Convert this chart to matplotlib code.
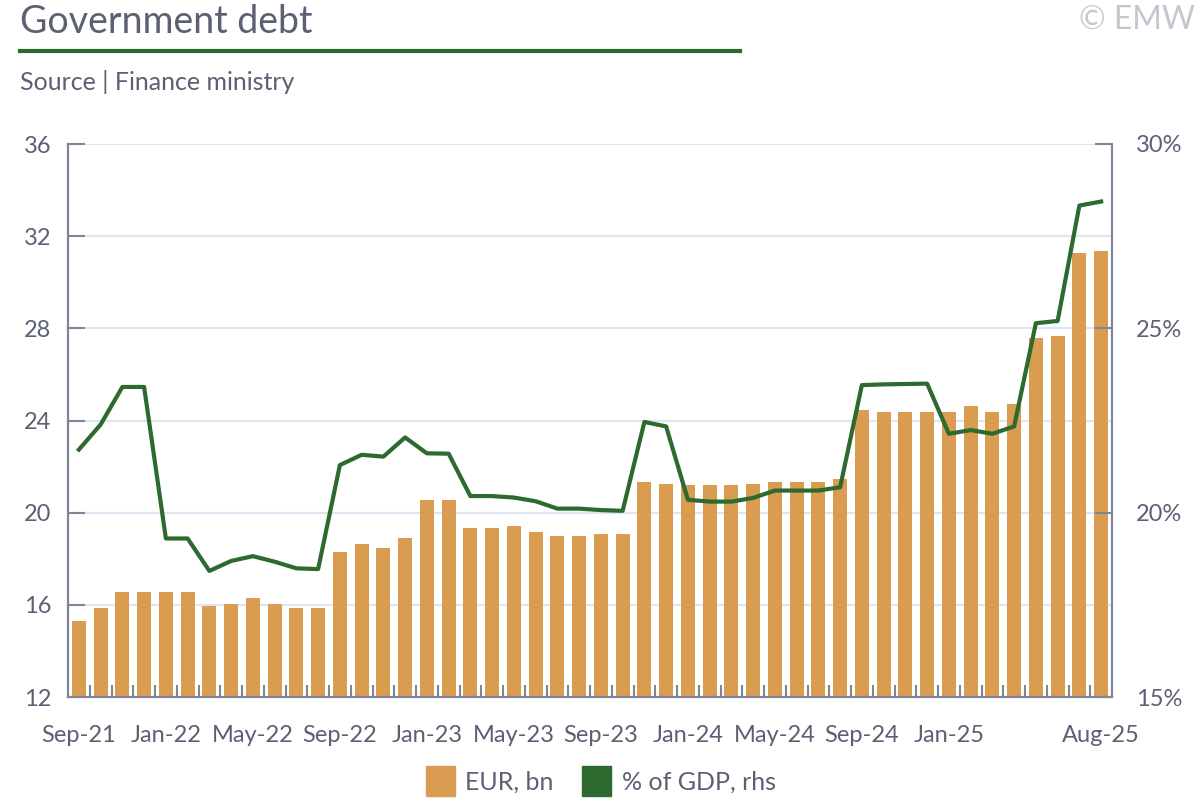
import matplotlib
matplotlib.use("Agg")
import matplotlib.pyplot as plt
from matplotlib.patches import Rectangle
from matplotlib.lines import Line2D

plt.rcParams['font.family'] = ['Lato', 'DejaVu Sans']

months = ["Sep-21", "Oct-21", "Nov-21", "Dec-21", "Jan-22", "Feb-22", "Mar-22", "Apr-22",
          "May-22", "Jun-22", "Jul-22", "Aug-22", "Sep-22", "Oct-22", "Nov-22", "Dec-22",
          "Jan-23", "Feb-23", "Mar-23", "Apr-23", "May-23", "Jun-23", "Jul-23", "Aug-23",
          "Sep-23", "Oct-23", "Nov-23", "Dec-23", "Jan-24", "Feb-24", "Mar-24", "Apr-24",
          "May-24", "Jun-24", "Jul-24", "Aug-24", "Sep-24", "Oct-24", "Nov-24", "Dec-24",
          "Jan-25", "Feb-25", "Mar-25", "Apr-25", "May-25", "Jun-25", "Jul-25", "Aug-25"]

debt_eur_bn = [15.32, 15.85, 16.55, 16.55, 16.55, 16.55, 15.94, 16.03,
               16.29, 16.03, 15.85, 15.85, 18.29, 18.65, 18.47, 18.90,
               20.56, 20.56, 19.34, 19.34, 19.42, 19.16, 18.98, 18.98,
               19.08, 19.08, 21.34, 21.26, 21.18, 21.18, 21.18, 21.26,
               21.34, 21.34, 21.34, 21.44, 24.47, 24.39, 24.39, 24.39,
               24.39, 24.65, 24.39, 24.73, 27.60, 27.68, 31.26, 31.35]

debt_pct_gdp = [21.71, 22.39, 23.41, 23.41, 19.30, 19.30, 18.42, 18.69,
                18.82, 18.67, 18.49, 18.47, 21.29, 21.57, 21.52, 22.04,
                21.61, 21.60, 20.45, 20.45, 20.41, 20.31, 20.11, 20.11,
                20.07, 20.05, 22.46, 22.34, 20.35, 20.30, 20.30, 20.40,
                20.60, 20.60, 20.60, 20.69, 23.46, 23.48, 23.49, 23.50,
                22.14, 22.24, 22.14, 22.34, 25.14, 25.20, 28.33, 28.44]

xtick_labels = ["Sep-21", "Jan-22", "May-22", "Sep-22", "Jan-23", "May-23",
                "Sep-23", "Jan-24", "May-24", "Sep-24", "Jan-25", "Aug-25"]

left_ticks = [12, 16, 20, 24, 28, 32, 36]
right_ticks = [15, 20, 25, 30]

BAR = "#D99C50"
LINE = "#2D6A2F"
TXT = "#5B6072"
SPINE = "#7D8597"
GRID = "#DCE5F1"

fig = plt.figure(figsize=(12, 8), dpi=100)
ax = fig.add_axes([68/1200, 1-697/800, (1112-68)/1200, (697-144)/800])
x = list(range(len(months)))

ax.bar(x, debt_eur_bn, width=0.65, color=BAR, zorder=2)
ax.set_xlim(-0.5, len(months) - 0.5)
ax.set_ylim(12, 36)
ax.set_yticks(left_ticks)
ax.set_yticklabels([str(t) for t in left_ticks])
ax.grid(axis='y', color=GRID, linewidth=1.5, zorder=0)
ax.set_axisbelow(True)

tick_pos = [months.index(m) for m in xtick_labels]
ax.set_xticks(tick_pos)
ax.set_xticklabels(xtick_labels)
ax.set_xticks([i + 0.5 for i in range(len(months) - 1)], minor=True)
ax.tick_params(axis='x', which='major', length=0, pad=20, labelsize=17, labelcolor=TXT)
ax.tick_params(axis='x', which='minor', direction='in', length=9, width=1.5, color=SPINE)
ax.tick_params(axis='y', direction='in', length=12, width=1.5, color=SPINE,
               labelsize=17, labelcolor=TXT, pad=12)

ax.spines['top'].set_visible(False)
for s in ['left', 'bottom', 'right']:
    ax.spines[s].set_color(SPINE)
    ax.spines[s].set_linewidth(1.5)

ax2 = ax.twinx()
ax2.plot(x, debt_pct_gdp, color=LINE, linewidth=3, zorder=3)
ax2.set_ylim(15, 30)
ax2.set_yticks(right_ticks)
ax2.set_yticklabels([f"{t}%" for t in right_ticks])
ax2.tick_params(axis='y', direction='in', length=12, width=1.5, color=SPINE,
                labelsize=17, labelcolor=TXT, pad=17)
ax2.spines['top'].set_visible(False)
for s in ['left', 'bottom', 'right']:
    ax2.spines[s].set_color(SPINE)
    ax2.spines[s].set_linewidth(1.5)

# Header
fig.text(20/1200, 1-22/800, "Government debt", fontsize=27, color=TXT, va='center', ha='left')
fig.add_artist(Line2D([20/1200, 740/1200], [1-51/800, 1-51/800], color=LINE, linewidth=3,
                      transform=fig.transFigure))
fig.text(20/1200, 1-82/800, "Source | Finance ministry", fontsize=18, color=TXT, va='center', ha='left')
fig.text(1195/1200, 1-20/800, "© EMW", fontsize=23, color="#C3C7CF", va='center', ha='right')

# Legend
fig.add_artist(Rectangle((426/1200, 1-796/800), 29/1200, 30/800, color=BAR, transform=fig.transFigure))
fig.text(465/1200, 1-782/800, "EUR, bn", fontsize=18, color=TXT, va='center', ha='left')
fig.add_artist(Rectangle((582/1200, 1-796/800), 29/1200, 30/800, color=LINE, transform=fig.transFigure))
fig.text(622/1200, 1-782/800, "% of GDP, rhs", fontsize=18, color=TXT, va='center', ha='left')

fig.savefig("out.png", dpi=100)
